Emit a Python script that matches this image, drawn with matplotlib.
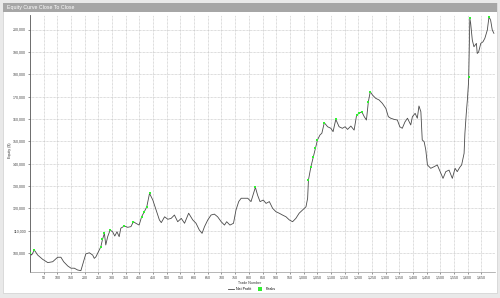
import numpy as np
import matplotlib
matplotlib.use("Agg")
import matplotlib.pyplot as plt
from matplotlib.patches import Rectangle

# equity curve (trade number, equity $)
trades = [0, 6, 16, 28, 46, 65, 83, 101, 113, 123, 138, 150, 162, 174, 186, 192, 204, 217,
          229, 235, 241, 250, 259, 265, 272, 277, 284, 293, 302, 310, 318, 326, 332, 345,
          357, 369, 378, 387, 399, 408, 418, 427, 437, 449, 461, 473, 480, 492, 504, 516,
          528, 540, 553, 565, 580, 595, 607, 619, 629, 638, 650, 662, 674, 686, 699, 711,
          719, 731, 744, 753, 763, 772, 784, 796, 808, 824, 832, 841, 853, 863, 875, 887,
          899, 911, 923, 936, 948, 960, 972, 984, 996, 1009, 1015, 1018, 1027, 1036, 1043,
          1051, 1060, 1067, 1076, 1088, 1100, 1108, 1118, 1130, 1142, 1152, 1161, 1173,
          1185, 1194, 1203, 1213, 1222, 1230, 1237, 1244, 1252, 1264, 1276, 1288, 1301,
          1310, 1319, 1331, 1343, 1352, 1361, 1371, 1380, 1392, 1398, 1408, 1416, 1422,
          1429, 1434, 1441, 1447, 1453, 1465, 1477, 1489, 1502, 1510, 1520, 1532, 1544,
          1554, 1562, 1571, 1578, 1587, 1590, 1595, 1599, 1603, 1604, 1608, 1611, 1617,
          1623, 1632, 1635, 1640, 1648, 1656, 1663, 1672, 1678, 1684, 1690, 1696]
equity = [100000, 99100, 101300, 99100, 97200, 95700, 96100, 98100, 98100, 96100, 94200,
          93200, 93200, 92400, 92100, 94600, 99600, 100100, 99100, 97600, 98300, 100600,
          102800, 106100, 108800, 103600, 107300, 110300, 109500, 107600, 109500, 107300,
          111100, 112100, 111500, 111800, 114000, 113300, 112500, 116200, 118500, 120700,
          126700, 123700, 119200, 114800, 113600, 116200, 115100, 115500, 117000, 114000,
          115500, 113300, 117800, 114800, 113300, 110300, 108800, 111800, 114800, 117000,
          117400, 116200, 114000, 112500, 114000, 112500, 113300, 119200, 123000, 124500,
          124500, 124500, 123000, 129400, 125900, 123000, 123700, 122200, 123000, 120000,
          118500, 117800, 117000, 116200, 114800, 114000, 115500, 117800, 119200, 120700,
          124500, 132700, 138600, 143100, 146800, 150600, 152800, 153600, 158300, 156500,
          155800, 154300, 159800, 156500, 155800, 156500, 155300, 156800, 155000, 161700,
          162500, 163200, 161000, 159500, 167700, 172200, 170700, 169200, 168500, 167000,
          164700, 161000, 160300, 159800, 159500, 156500, 155800, 158700, 160300, 157300,
          161000, 162500, 160300, 165800, 163200, 150600, 149800, 146100, 139400, 137900,
          138600, 139400, 135700, 133400, 136400, 137100, 133400, 137900, 136400, 138300,
          139400, 144600, 153600, 162500, 168500, 175900, 178900, 205000, 202800, 195300,
          192300, 193800, 189300, 189900, 193800, 194500, 196100, 199800, 205700, 204200,
          199800, 198300]

# new equity highs (green markers)
peak_trades = [0, 16, 259, 265, 272, 293, 345, 378, 408, 418, 427, 437, 824, 1018, 1027,
               1036, 1043, 1051, 1076, 1118, 1194, 1203, 1213, 1237, 1244, 1604, 1608, 1678]
peak_equity = [100000, 101300, 102800, 106100, 108800, 110300, 112100, 114000, 116200,
               118500, 120700, 126700, 129400, 132700, 138600, 143100, 146800, 150600,
               158300, 159800, 161700, 162500, 163200, 167700, 172200, 178900, 205000, 205700]

x_ticks = list(range(50, 1651, 50))
y_ticks = list(range(100000, 200001, 10000))

FONT = "Liberation Sans"
fig = plt.figure(figsize=(5, 2.98), dpi=100, facecolor="#e9e9e9")

# white panel + grey caption bar like the app window
fig.patches.append(Rectangle((3 / 500, 1 - 293 / 298), 494 / 500, 290 / 298,
                             transform=fig.transFigure, facecolor="white",
                             edgecolor="#d0d0d0", lw=0.5, zorder=-2))
fig.patches.append(Rectangle((3 / 500, 1 - 12 / 298), 494 / 500, 9 / 298,
                             transform=fig.transFigure, facecolor="#a6a6a6",
                             edgecolor="none", zorder=-1))
fig.text(7 / 500, 1 - 7.6 / 298, "Equity Curve Close To Close", color="white",
         fontsize=3.8, family=FONT, va="center", ha="left")

ax = fig.add_axes([30 / 500, 1 - 272 / 298, 465 / 500, 257 / 298], zorder=2)
ax.set_facecolor("none")
ax.plot(trades, equity, color="#4a4a4a", lw=0.6, label="Net Profit", zorder=3)
ax.plot(peak_trades, peak_equity, ls="none", marker="s", ms=2.0, mew=0,
        color="#33ee33", label="Peaks", zorder=4)

ax.set_xlim(0, 1700)
ax.set_ylim(91500, 206500)
ax.set_xticks(x_ticks)
ax.set_xticklabels([f"{v:,}" for v in x_ticks])
ax.set_yticks(y_ticks)
ax.set_yticklabels([f"{v:,}" for v in y_ticks])
ax.tick_params(labelsize=2.6, length=1.2, width=0.4, pad=1.5, colors="#444444")
for lab in ax.get_xticklabels() + ax.get_yticklabels():
    lab.set_family(FONT)
ax.grid(True, ls=(0, (1, 1)), lw=0.5, color="#bdbdbd")
ax.spines["top"].set_visible(False)
ax.spines["right"].set_visible(False)
ax.spines["left"].set_color("#555555")
ax.spines["left"].set_linewidth(0.6)
ax.spines["bottom"].set_color("#999999")
ax.spines["bottom"].set_linewidth(0.5)

fig.text(250 / 500, 1 - 283 / 298, "Trade Number", fontsize=2.6, family=FONT,
         ha="center", va="center", color="#333333")
fig.text(10 / 500, 1 - 150 / 298, "Equity ($)", fontsize=2.6, family=FONT,
         ha="center", va="center", rotation=90, color="#333333")
leg = fig.legend(loc="center", bbox_to_anchor=(252 / 500, 1 - 289 / 298), ncol=2,
                 frameon=False, prop={"family": FONT, "size": 2.6},
                 handlelength=1.6, handletextpad=0.6, columnspacing=1.6, markerscale=1.2)

fig.savefig("out.png", dpi=100, facecolor=fig.get_facecolor())
